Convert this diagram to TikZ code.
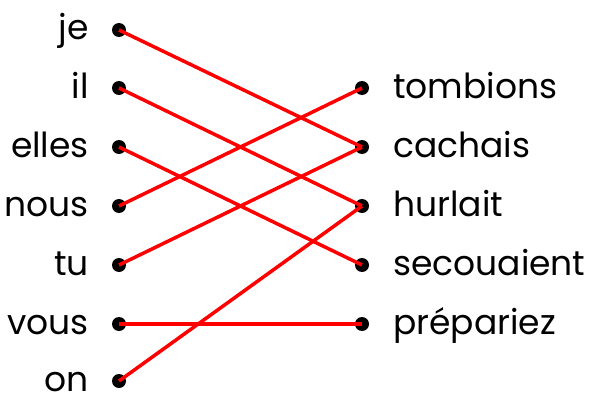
\documentclass[tikz,border=0pt]{standalone}
\usepackage{fontspec}
\setmainfont{Poppins}
\begin{document}
\begin{tikzpicture}[x=1pt,y=-1pt,
  dot/.style={circle,fill=black,inner sep=0pt,minimum size=14pt},
  lbl/.style={font=\fontsize{34.5}{40}\selectfont,inner sep=0pt},
  link/.style={draw=red,line width=3.5pt}]
\useasboundingbox (0,0) rectangle (597,396);
% left dots
\foreach \n/\y/\t in {L1/30/je,L2/88/il,L3/147/elles,L4/206/nous,L5/265/tu,L6/324/vous,L7/381/on}{
  \node[dot] (\n) at (119,\y) {};
  \node[lbl,anchor=base east] (\n t) at (89,\y+10) {\t};
}
% right dots
\foreach \n/\y/\t in {R1/88/tombions,R2/147/cachais,R3/206/hurlait,R4/265/secouaient,R5/324/prépariez}{
  \node[dot] (\n) at (362,\y) {};
  \node[lbl,anchor=base west] (\n t) at (393,\y+10) {\t};
}
\draw[link] (L1.center) -- (R2.center);
\draw[link] (L2.center) -- (R3.center);
\draw[link] (L3.center) -- (R4.center);
\draw[link] (L4.center) -- (R1.center);
\draw[link] (L5.center) -- (R2.center);
\draw[link] (L6.center) -- (R5.center);
\draw[link] (L7.center) -- (R3.center);
\end{tikzpicture}
\end{document}
